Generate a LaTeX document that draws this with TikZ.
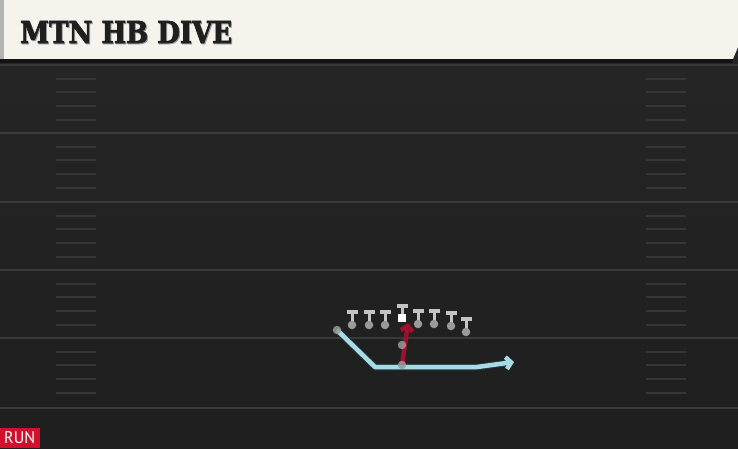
\documentclass[tikz,border=0pt]{standalone}
\usepackage{fontspec}
\usetikzlibrary{arrows.meta,calc}
\newfontfamily\titlefont{DejaVu Serif}[FakeBold=2.5]
\newfontfamily\tagfont{PT Sans}
\definecolor{fieldbg}{HTML}{222222}
\definecolor{cream}{HTML}{F5F3EC}
\definecolor{strip}{HTML}{B3B3B3}
\definecolor{yardcol}{HTML}{3A3A3A}
\definecolor{hashcol}{HTML}{363636}
\definecolor{barcol}{HTML}{C4C4C4}
\definecolor{dotcol}{HTML}{9A9A9A}
\definecolor{routeblue}{HTML}{A6DCE8}
\definecolor{routered}{HTML}{A0102E}
\definecolor{runred}{HTML}{D0102C}
\pgfdeclarelayer{bg}
\pgfdeclarelayer{routes}
\pgfsetlayers{bg,routes,main}
\tikzset{
  yard/.style={draw=yardcol, line width=2pt},
  hashmark/.style={draw=hashcol, line width=2pt},
  plc/.style={circle, fill=dotcol, inner sep=0pt, minimum size=8.5pt, draw=none},
  bkc/.style={circle, fill=dotcol, fill opacity=0.85, inner sep=0pt, minimum size=8.5pt, draw=none},
  ballsq/.style={rectangle, fill=white, inner sep=0pt, minimum size=8.5pt, draw=none},
  bluer/.style={draw=routeblue, line width=4.5pt, line join=round, -{Straight Barb[length=5pt,width=12pt]}},
  bluerout/.style={draw=black!75!routeblue, line width=6.5pt, line join=round},
  redr/.style={draw=routered, line width=4.5pt, -{Straight Barb[length=5pt,width=12pt]}},
}
\newcommand\plyr[3]{%
  \fill[barcol] (#2-5.5,#3) rectangle (#2+5.5,#3+4);
  \fill[barcol] (#2-1.5,#3+3) rectangle (#2+1.5,#3+13);
  \node[plc] (#1) at (#2,#3+15) {};}
\begin{document}
\begin{tikzpicture}[x=1pt,y=-1pt]
\useasboundingbox (0,0) rectangle (738,448);
\begin{pgfonlayer}{bg}
  \shade[top color=black!85, bottom color=black!88] (0,0) rectangle (738,448);
  % header
  \fill[cream] (4,0) -- (738,0) -- (738,47) -- (733,59) -- (4,59) -- cycle;
  \fill[strip] (0,0) rectangle (4,59);
  \fill[black!92] (0,59) rectangle (733,63);
  \draw[draw=black!78, line width=1.5pt] (0,65) -- (738,65);
  % yard lines
  \foreach \yy in {133,202,270,338,408} {\draw[yard] (0,\yy) -- (738,\yy);}
  % hash marks
  \foreach \yy in {65,133,202,270,338} {
    \foreach \k in {1,2,3,4} {
      \draw[hashmark] (56,\yy+\k*13.7) -- (96,\yy+\k*13.7);
      \draw[hashmark] (646,\yy+\k*13.7) -- (686,\yy+\k*13.7);
    }
  }
\end{pgfonlayer}
% title
\node[anchor=base west, inner sep=0pt, text=black!40] (titleshadow) at (21,44)
  {\resizebox{212pt}{22pt}{\titlefont\bfseries MTN HB DIVE}};
\node[anchor=base west, inner sep=0pt, text=black!88] (title) at (20,43)
  {\resizebox{212pt}{22pt}{\titlefont\bfseries MTN HB DIVE}};
% run tag
\fill[runred] (0,428) rectangle (40,448);
\node[anchor=base west, inner sep=0pt, text=white] (run) at (4,443)
  {\resizebox{31pt}{12pt}{\tagfont RUN}};
% line players
\plyr{p1}{352}{310}
\plyr{p2}{369}{310}
\plyr{p3}{385}{310}
\plyr{p5}{418}{309}
\plyr{p6}{434}{309}
\plyr{p7}{451}{311}
\plyr{p8}{466}{317}
% center
\fill[barcol] (396.5,304) rectangle (407.5,308);
\fill[barcol] (400.5,307) rectangle (403.5,315);
\node[ballsq] (ctr) at (402,318) {};
% backs
\node[bkc] (wr) at (337,330) {};
\node[bkc] (qb) at (402,345) {};
\node[bkc] (hb) at (402,365) {};
\coordinate (b1) at (375,367);
\coordinate (b2) at (477,367);
\coordinate (bend) at (514,362);
\coordinate (rend) at (408,323);
\begin{pgfonlayer}{routes}
  \draw[bluerout] (wr.center) -- (b1) -- (b2) -- ($(bend)+(-3,0.5)$);
  \draw[bluer] (wr.center) -- (b1) -- (b2) -- (bend);
  \draw[redr] (hb.center) -- (rend);
\end{pgfonlayer}
\end{tikzpicture}
\end{document}
